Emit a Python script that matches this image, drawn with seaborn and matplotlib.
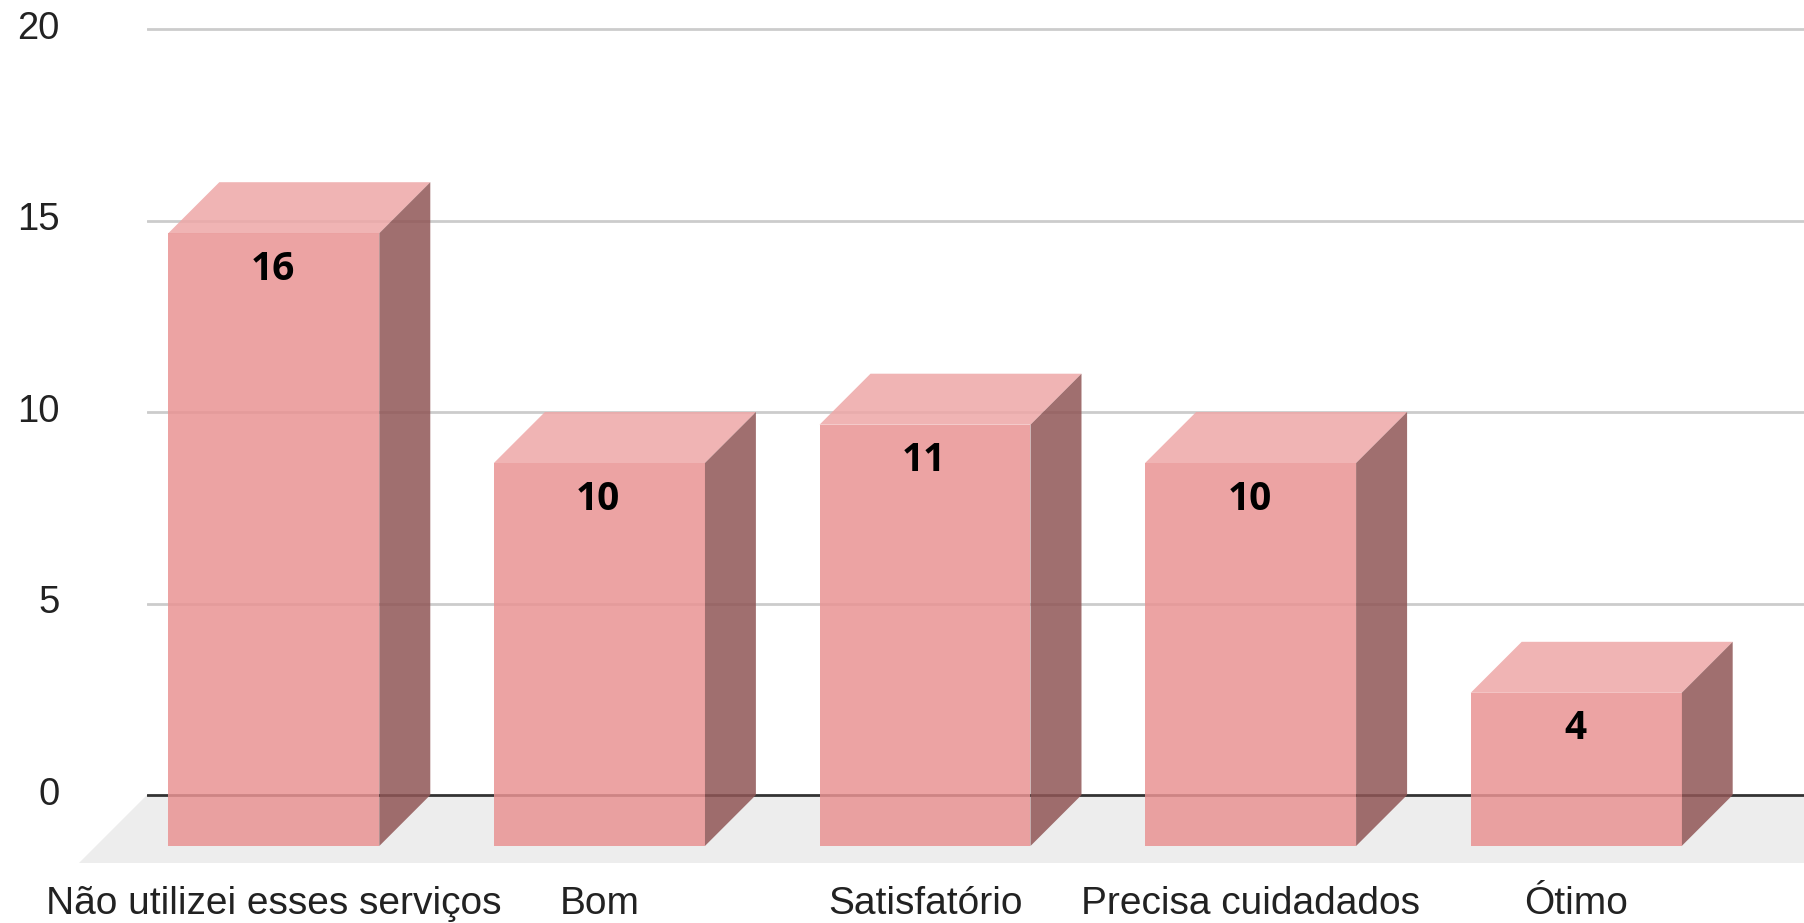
import matplotlib
matplotlib.use("Agg")
import matplotlib.pyplot as plt
from matplotlib.patches import Polygon
from matplotlib.transforms import ScaledTranslation
import seaborn as sns

categories = ["Não utilizei esses serviços", "Bom", "Satisfatório", "Precisa cuidadados", "Ótimo"]
values = [16, 10, 11, 10, 4]
y_ticks = [0, 5, 10, 15, 20]

W, H = 1804, 923
# pixel layout of the fake 3D box
PX_PER_CAT = 325.6
PX_PER_UNIT = 38.3
FIRST_CENTER = 273.8
BASE_Y = 795
AX_LEFT = 147
AX_BOTTOM = 863
DEPTH_PX = 51
FLOOR_PX = 68

dx = DEPTH_PX / PX_PER_CAT
dy = DEPTH_PX / PX_PER_UNIT
floor_dx = FLOOR_PX / PX_PER_CAT
floor_dy = FLOOR_PX / PX_PER_UNIT

sns.set_theme(style="white", font="Liberation Sans")
fig = plt.figure(figsize=(W / 100, H / 100), dpi=100)
ax = fig.add_axes([AX_LEFT / W, (H - AX_BOTTOM) / H, 1 - AX_LEFT / W, AX_BOTTOM / H])

# front faces, pushed forward by the box depth
sns.barplot(x=categories, y=values, width=0.648, color="#e99393", saturation=1,
            alpha=0.85, linewidth=0, bottom=-dy, zorder=4, ax=ax)

xmin = (AX_LEFT - FIRST_CENTER) / PX_PER_CAT
xmax = (W - FIRST_CENTER) / PX_PER_CAT
ax.set_xlim(xmin, xmax)
ax.set_ylim(-(AX_BOTTOM - BASE_Y) / PX_PER_UNIT, BASE_Y / PX_PER_UNIT)

# floor
ax.add_patch(Polygon([(xmin, 0), (xmax + floor_dx, 0), (xmax, -floor_dy), (xmin - floor_dx, -floor_dy)],
                     closed=True, facecolor="#ededed", edgecolor="none", zorder=1, clip_on=False))

# gridlines show through the bars
for t in y_ticks:
    if t == 0:
        ax.axhline(t, color="#333333", lw=2, zorder=2)
    else:
        ax.axhline(t, color="#cccccc", lw=2, zorder=2)

# top and side faces from the front bars
for bar, val in zip(list(ax.patches), values):
    x0 = bar.get_x()
    x1 = x0 + bar.get_width()
    y0 = bar.get_y()
    y1 = y0 + bar.get_height()
    ax.add_patch(Polygon([(x0, y1), (x1, y1), (x1 + dx, y1 + dy), (x0 + dx, y1 + dy)], closed=True,
                         facecolor="#eea7a7", alpha=0.85, edgecolor="none", zorder=3))
    ax.add_patch(Polygon([(x1, y0), (x1 + dx, y0 + dy), (x1 + dx, y1 + dy), (x1, y1)], closed=True,
                         facecolor="#905656", alpha=0.85, edgecolor="none", zorder=3))
    ax.annotate(str(val), xy=((x0 + x1) / 2, y1), xytext=(-0.8, -26), textcoords="offset points",
                ha="center", va="center", fontsize=28, fontweight="bold", family="Open Sans",
                color="black", zorder=5)

ax.set_yticks(y_ticks)
ax.set_yticklabels([str(t) for t in y_ticks])
ax.set_xlabel("")
ax.set_ylabel("")
ax.tick_params(axis="y", length=0, pad=63, labelsize=27.5, labelcolor="#222222")
ax.tick_params(axis="x", length=0, pad=16.5, labelsize=28, labelcolor="#222222")
# y labels sit a little above their gridlines
lift = ScaledTranslation(0, 3 / 72, fig.dpi_scale_trans)
for lab in ax.get_yticklabels():
    lab.set_transform(lab.get_transform() + lift)
sns.despine(ax=ax, left=True, bottom=True)
ax.patch.set_visible(False)

fig.savefig("out.png", dpi=100, facecolor="white")
